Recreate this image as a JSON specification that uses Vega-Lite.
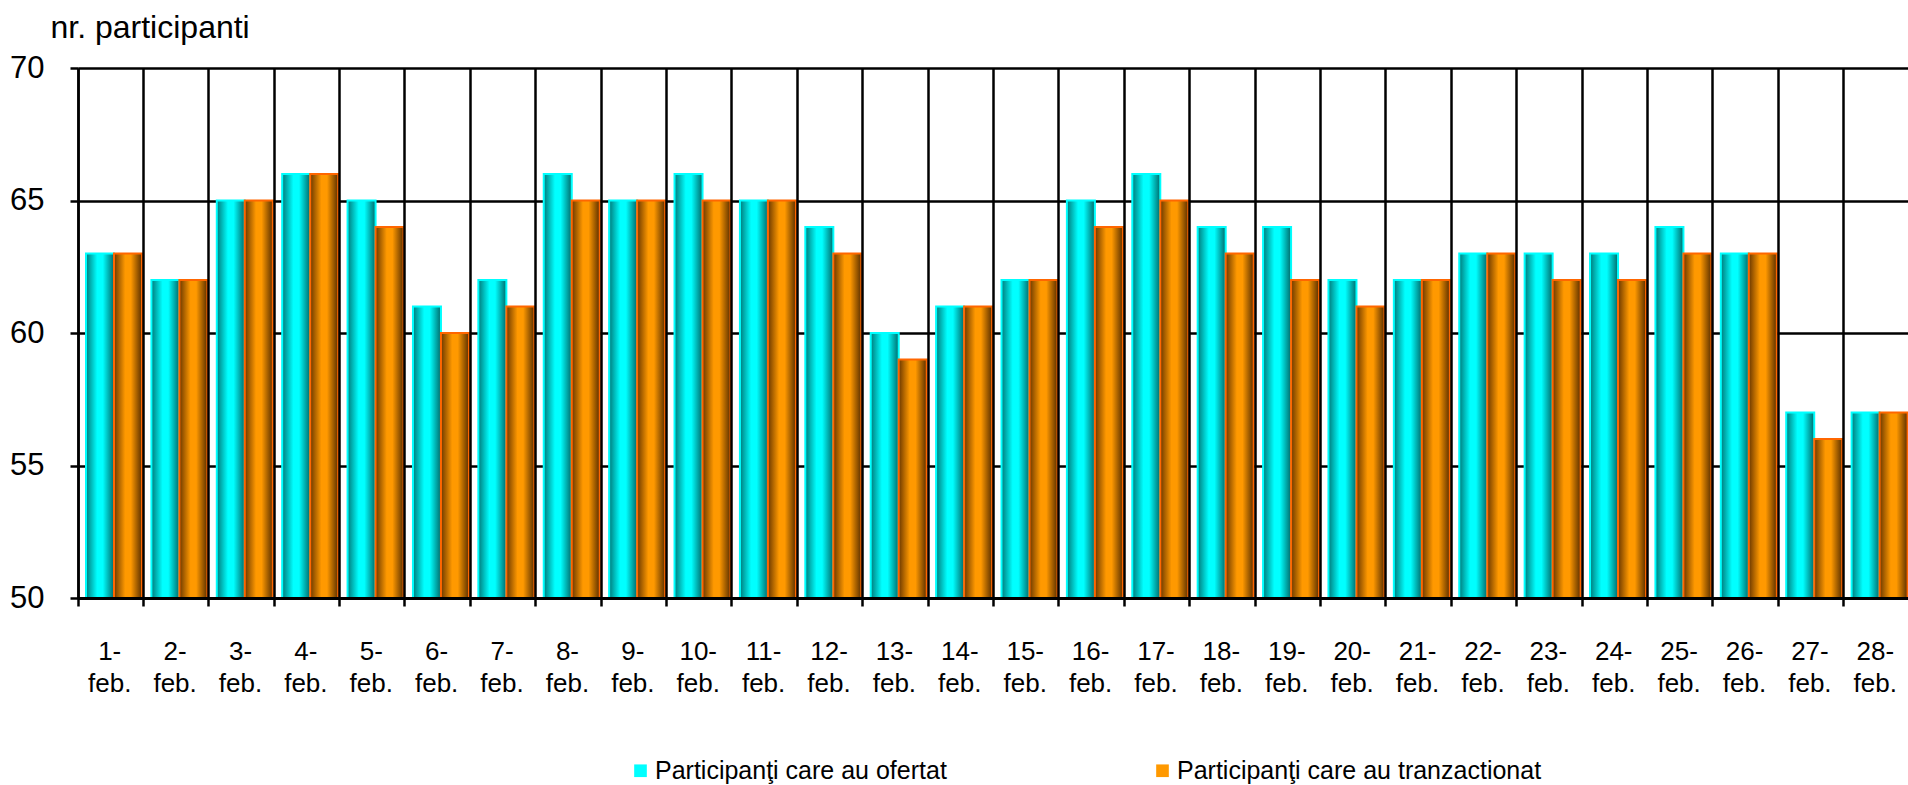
{
  "$schema": "https://vega.github.io/schema/vega-lite/v6.json",
  "width": 1831,
  "height": 530,
  "autosize": {"type": "none"},
  "padding": {"left": 78, "top": 68, "right": 0, "bottom": 187},
  "background": "white",
  "config": {"view": {"stroke": null}, "font": "Liberation Sans"},
  "datasets": {
    "main": [
      {"d": "1-feb.", "s": "Participanţi care au ofertat", "v": 63}, {"d": "1-feb.", "s": "Participanţi care au tranzactionat", "v": 63},
      {"d": "2-feb.", "s": "Participanţi care au ofertat", "v": 62}, {"d": "2-feb.", "s": "Participanţi care au tranzactionat", "v": 62},
      {"d": "3-feb.", "s": "Participanţi care au ofertat", "v": 65}, {"d": "3-feb.", "s": "Participanţi care au tranzactionat", "v": 65},
      {"d": "4-feb.", "s": "Participanţi care au ofertat", "v": 66}, {"d": "4-feb.", "s": "Participanţi care au tranzactionat", "v": 66},
      {"d": "5-feb.", "s": "Participanţi care au ofertat", "v": 65}, {"d": "5-feb.", "s": "Participanţi care au tranzactionat", "v": 64},
      {"d": "6-feb.", "s": "Participanţi care au ofertat", "v": 61}, {"d": "6-feb.", "s": "Participanţi care au tranzactionat", "v": 60},
      {"d": "7-feb.", "s": "Participanţi care au ofertat", "v": 62}, {"d": "7-feb.", "s": "Participanţi care au tranzactionat", "v": 61},
      {"d": "8-feb.", "s": "Participanţi care au ofertat", "v": 66}, {"d": "8-feb.", "s": "Participanţi care au tranzactionat", "v": 65},
      {"d": "9-feb.", "s": "Participanţi care au ofertat", "v": 65}, {"d": "9-feb.", "s": "Participanţi care au tranzactionat", "v": 65},
      {"d": "10-feb.", "s": "Participanţi care au ofertat", "v": 66}, {"d": "10-feb.", "s": "Participanţi care au tranzactionat", "v": 65},
      {"d": "11-feb.", "s": "Participanţi care au ofertat", "v": 65}, {"d": "11-feb.", "s": "Participanţi care au tranzactionat", "v": 65},
      {"d": "12-feb.", "s": "Participanţi care au ofertat", "v": 64}, {"d": "12-feb.", "s": "Participanţi care au tranzactionat", "v": 63},
      {"d": "13-feb.", "s": "Participanţi care au ofertat", "v": 60}, {"d": "13-feb.", "s": "Participanţi care au tranzactionat", "v": 59},
      {"d": "14-feb.", "s": "Participanţi care au ofertat", "v": 61}, {"d": "14-feb.", "s": "Participanţi care au tranzactionat", "v": 61},
      {"d": "15-feb.", "s": "Participanţi care au ofertat", "v": 62}, {"d": "15-feb.", "s": "Participanţi care au tranzactionat", "v": 62},
      {"d": "16-feb.", "s": "Participanţi care au ofertat", "v": 65}, {"d": "16-feb.", "s": "Participanţi care au tranzactionat", "v": 64},
      {"d": "17-feb.", "s": "Participanţi care au ofertat", "v": 66}, {"d": "17-feb.", "s": "Participanţi care au tranzactionat", "v": 65},
      {"d": "18-feb.", "s": "Participanţi care au ofertat", "v": 64}, {"d": "18-feb.", "s": "Participanţi care au tranzactionat", "v": 63},
      {"d": "19-feb.", "s": "Participanţi care au ofertat", "v": 64}, {"d": "19-feb.", "s": "Participanţi care au tranzactionat", "v": 62},
      {"d": "20-feb.", "s": "Participanţi care au ofertat", "v": 62}, {"d": "20-feb.", "s": "Participanţi care au tranzactionat", "v": 61},
      {"d": "21-feb.", "s": "Participanţi care au ofertat", "v": 62}, {"d": "21-feb.", "s": "Participanţi care au tranzactionat", "v": 62},
      {"d": "22-feb.", "s": "Participanţi care au ofertat", "v": 63}, {"d": "22-feb.", "s": "Participanţi care au tranzactionat", "v": 63},
      {"d": "23-feb.", "s": "Participanţi care au ofertat", "v": 63}, {"d": "23-feb.", "s": "Participanţi care au tranzactionat", "v": 62},
      {"d": "24-feb.", "s": "Participanţi care au ofertat", "v": 63}, {"d": "24-feb.", "s": "Participanţi care au tranzactionat", "v": 62},
      {"d": "25-feb.", "s": "Participanţi care au ofertat", "v": 64}, {"d": "25-feb.", "s": "Participanţi care au tranzactionat", "v": 63},
      {"d": "26-feb.", "s": "Participanţi care au ofertat", "v": 63}, {"d": "26-feb.", "s": "Participanţi care au tranzactionat", "v": 63},
      {"d": "27-feb.", "s": "Participanţi care au ofertat", "v": 57}, {"d": "27-feb.", "s": "Participanţi care au tranzactionat", "v": 56},
      {"d": "28-feb.", "s": "Participanţi care au ofertat", "v": 57}, {"d": "28-feb.", "s": "Participanţi care au tranzactionat", "v": 57}
    ]
  },
  "data": {"name": "main"},
  "encoding": {
    "x": {
      "field": "d", "type": "ordinal", "sort": null,
      "scale": {"paddingInner": 0, "paddingOuter": 0},
      "axis": {
        "title": null, "bandPosition": 0, "labelOffset": -1, "zindex": 1,
        "grid": true, "gridColor": "black", "gridWidth": 2.5,
        "domainColor": "black", "domainWidth": 3,
        "tickColor": "black", "tickWidth": 2.5, "tickSize": 8,
        "labelAngle": 0, "labelAlign": "center", "labelBaseline": "top",
        "labelExpr": "[split(datum.value, '-')[0] + '-', split(datum.value, '-')[1]]",
        "labelFontSize": 26, "labelColor": "black", "labelPadding": 32, "labelLineHeight": 32
      }
    },
    "xOffset": {
      "field": "s", "type": "nominal",
      "scale": {"domain": ["Participanţi care au ofertat", "Participanţi care au tranzactionat"], "range": [8, 64], "paddingInner": 0, "paddingOuter": 0}
    },
    "y": {
      "field": "v", "type": "quantitative",
      "scale": {"domain": [50, 70], "nice": false, "zero": false},
      "axis": {
        "values": [50, 55, 60, 65, 70],
        "grid": true, "gridColor": "black", "gridWidth": 2.5,
        "domainColor": "black", "domainWidth": 2.5,
        "tickColor": "black", "tickWidth": 2.5, "tickSize": 8,
        "labelFontSize": 31, "labelColor": "black", "labelPadding": 26,
        "title": "nr. participanti", "titleAngle": 0, "titleAlign": "left", "titleBaseline": "alphabetic",
        "titleX": -28, "titleY": -31, "titleFontSize": 32, "titleFontWeight": "normal", "titleColor": "black"
      }
    },
    "y2": {"datum": 50}
  },
  "layer": [
    {
      "mark": {"type": "bar"},
      "encoding": {
        "color": {
          "field": "s", "type": "nominal",
          "scale": {"domain": ["Participanţi care au ofertat", "Participanţi care au tranzactionat"], "range": ["#00FFFF", "#FF9900"]},
          "legend": {
            "title": null, "orient": "none", "legendX": 550, "legendY": 690, "direction": "horizontal",
            "symbolType": "square", "symbolSize": 160, "labelFontSize": 25, "labelColor": "black", "labelLimit": 0,
            "labelOffset": 2, "columnPadding": 203
          }
        }
      }
    },
    {
      "transform": [{"filter": "datum.s == 'Participanţi care au ofertat'"}],
      "mark": {
        "type": "bar", "stroke": "#00FFFF", "strokeWidth": 2,
        "fill": {"gradient": "linear", "x1": 0, "y1": 0, "x2": 1, "y2": 0,
          "stops": [{"offset": 0, "color": "#007a7a"}, {"offset": 0.4, "color": "#00ffff"}, {"offset": 0.6, "color": "#00ffff"}, {"offset": 1, "color": "#006a6a"}]}
      }
    },
    {
      "transform": [{"filter": "datum.s == 'Participanţi care au tranzactionat'"}],
      "mark": {
        "type": "bar", "stroke": "#FF6600", "strokeWidth": 2,
        "fill": {"gradient": "linear", "x1": 0, "y1": 0, "x2": 1, "y2": 0,
          "stops": [{"offset": 0, "color": "#6b3800"}, {"offset": 0.4, "color": "#ff9900"}, {"offset": 0.6, "color": "#ff9900"}, {"offset": 1, "color": "#5a2f00"}]}
      }
    }
  ]
}
